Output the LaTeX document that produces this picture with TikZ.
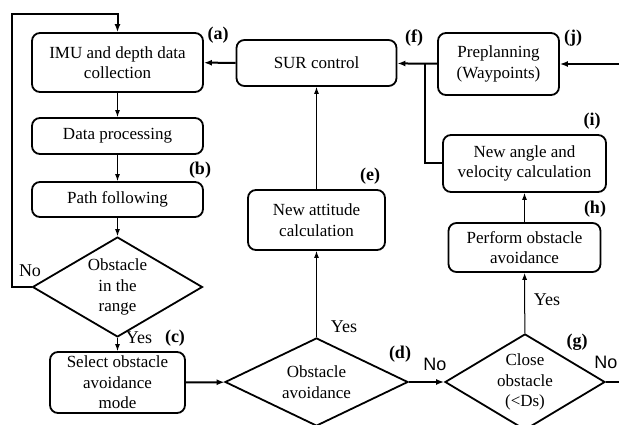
\documentclass[tikz,border=0pt]{standalone}
\usepackage{fontspec}
\setmainfont{Liberation Serif}
\newfontfamily\answersans{Liberation Sans}
\usetikzlibrary{shapes.geometric,arrows.meta}

\begin{document}
\begin{tikzpicture}[x=1pt, y=-1pt,
  font=\fontsize{17}{20.5}\selectfont,
  stepbox/.style={draw, line width=1.8pt, rounded corners=8pt, align=center, inner sep=0pt},
  decision/.style={draw, diamond, line width=1.8pt, align=center, inner sep=-4pt},
  tag/.style={font=\fontsize{18}{20}\selectfont\bfseries},
  answer/.style={font=\fontsize{18}{20}\selectfont},
  sansanswer/.style={font=\answersans\fontsize{18}{20}\selectfont},
  thinflow/.style={-{Latex[length=7pt,width=5pt]}, line width=1pt},
  thickflow/.style={-{Latex[length=8pt,width=6pt]}, line width=2pt},
  thickline/.style={line width=2pt}]

  \useasboundingbox (0, 0) rectangle (619, 425);

  \node[stepbox, minimum width=171pt, minimum height=59pt] (imu) at (117.5, 62.5) {IMU and depth data\\collection};
  \node[stepbox, minimum width=171pt, minimum height=36pt] (proc) at (117.5, 136) {Data processing};
  \node[stepbox, minimum width=171pt, minimum height=35pt] (path) at (117.5, 199.5) {Path following};
  \node[decision, minimum width=170pt, minimum height=87pt] (range) at (117.5, 287) {Obstacle\\in the\\range};
  \node[stepbox, minimum width=135pt, minimum height=61pt] (select) at (117.5, 382.5) {Select obstacle\\avoidance\\mode};
  \node[decision, minimum width=183pt, minimum height=88pt] (avoid) at (316.5, 382) {Obstacle\\avoidance};
  \node[stepbox, minimum width=137pt, minimum height=60pt] (attitude) at (316.5, 220) {New attitude\\calculation};
  \node[stepbox, minimum width=160pt, minimum height=46pt] (sur) at (316.5, 63) {SUR control};
  \node[stepbox, minimum width=121pt, minimum height=62pt] (preplan) at (498.5, 64) {Preplanning\\(Waypoints)};
  \node[stepbox, minimum width=163pt, minimum height=57pt] (angle) at (524.5, 163.5) {New angle and\\velocity calculation};
  \node[stepbox, minimum width=152pt, minimum height=49pt] (perform) at (524.5, 247.5) {Perform obstacle\\avoidance};
  \node[decision, minimum width=160pt, minimum height=88pt] (close) at (525, 382) {Close\\obstacle\\(<Ds)};

  \node[tag] (taga) at (218, 35) {(a)};
  \node[tag] (tagb) at (200, 170) {(b)};
  \node[tag] (tagc) at (175, 338) {(c)};
  \node[tag] (tagd) at (400, 354) {(d)};
  \node[tag] (tage) at (370, 176) {(e)};
  \node[tag] (tagf) at (414, 38) {(f)};
  \node[tag] (tagg) at (577, 342) {(g)};
  \node[tag] (tagh) at (595, 209) {(h)};
  \node[tag] (tagi) at (592, 121) {(i)};
  \node[tag] (tagj) at (573, 38) {(j)};

  \node[answer] (rangeno) at (30, 271) {No};
  \node[answer] (rangeyes) at (139, 338) {Yes};
  \node[answer] (avoidyes) at (344, 327) {Yes};
  \node[sansanswer] (avoidno) at (435, 364) {No};
  \node[answer] (closeyes) at (547, 300) {Yes};
  \node[sansanswer, anchor=east] (closeno) at (621, 362) {No};

  \coordinate (loop) at (12, 14);
  \coordinate (merge) at (425, 63);
  \coordinate (entry) at (619, 64);
  \coordinate (exit) at (619, 382);

  \draw[thinflow] (imu) -- (proc);
  \draw[thinflow] (proc) -- (path);
  \draw[thinflow] (path) -- (range);
  \draw[thinflow] (range) -- (select);
  \draw[thickflow] (range.west) -| (loop) -| (imu.north);
  \draw[thickflow] (select) -- (avoid);
  \draw[thinflow] (avoid) -- (attitude);
  \draw[thinflow] (attitude) -- (sur);
  \draw[thickflow] (sur) -- (imu);
  \draw[thickflow] (avoid) -- (close);
  \draw[thinflow] (close) -- (perform);
  \draw[thinflow] (perform) -- (angle);
  \draw[thickline] (angle.west) -| (merge);
  \draw[thickflow] (preplan) -- (sur);
  \draw[thickflow] (entry) -- (preplan);
  \draw[thickline] (close.east) -- (exit);

\end{tikzpicture}
\end{document}
